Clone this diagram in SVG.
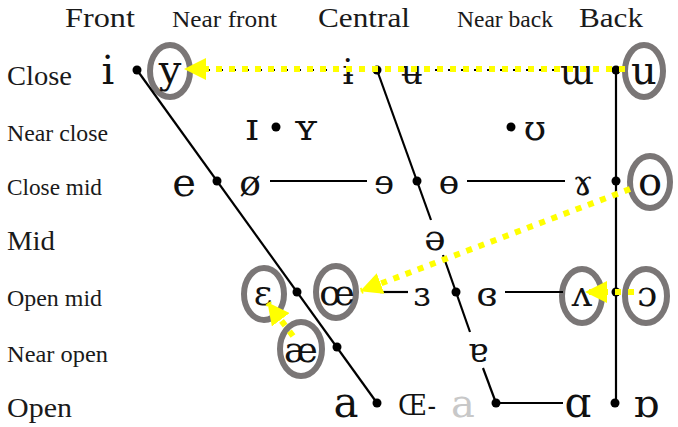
<svg xmlns="http://www.w3.org/2000/svg" width="678" height="427" viewBox="0 0 678 427">
<style>
.lbl{font-family:"Liberation Serif","Times New Roman",serif;fill:#1a1a1a}
.v{font-family:"DejaVu Serif","Liberation Serif",serif;fill:#111;text-anchor:middle}
.ring{fill:none;stroke:#7a7676;stroke-width:6}
.ln{stroke:#000;stroke-width:2.2;fill:none}
.dash{stroke-dasharray:7 6}
.yel{stroke:#ffff00;stroke-width:6;stroke-dasharray:6 7;fill:none;marker-end:url(#ah)}
.dot{fill:#000}
</style>
<defs>
<marker id="ah" markerUnits="userSpaceOnUse" markerWidth="22" markerHeight="22" viewBox="0 0 22 22" refX="21" refY="11" orient="auto">
<path d="M0,0 L22,11 L0,22 Z" fill="#ffff00"/>
</marker>
</defs>
<rect width="678" height="427" fill="#fff"/>
<g id="headers">
<text id="h-front" class="lbl" x="65" y="27" font-size="28" textLength="70" lengthAdjust="spacingAndGlyphs">Front</text>
<text id="h-nearfront" class="lbl" x="172" y="27" font-size="23" textLength="105" lengthAdjust="spacingAndGlyphs">Near front</text>
<text id="h-central" class="lbl" x="318" y="27" font-size="28" textLength="92" lengthAdjust="spacingAndGlyphs">Central</text>
<text id="h-nearback" class="lbl" x="457" y="27" font-size="23" textLength="96" lengthAdjust="spacingAndGlyphs">Near back</text>
<text id="h-back" class="lbl" x="579" y="27" font-size="28" textLength="64" lengthAdjust="spacingAndGlyphs">Back</text>
</g>
<g id="rows">
<text id="r-close" class="lbl" x="7" y="85" font-size="28" textLength="65" lengthAdjust="spacingAndGlyphs">Close</text>
<text id="r-nearclose" class="lbl" x="7" y="141" font-size="23" textLength="101" lengthAdjust="spacingAndGlyphs">Near close</text>
<text id="r-closemid" class="lbl" x="7" y="195" font-size="23" textLength="95" lengthAdjust="spacingAndGlyphs">Close mid</text>
<text id="r-mid" class="lbl" x="7" y="250" font-size="28" textLength="48" lengthAdjust="spacingAndGlyphs">Mid</text>
<text id="r-openmid" class="lbl" x="7" y="306" font-size="23" textLength="95" lengthAdjust="spacingAndGlyphs">Open mid</text>
<text id="r-nearopen" class="lbl" x="7" y="362" font-size="23" textLength="101" lengthAdjust="spacingAndGlyphs">Near open</text>
<text id="r-open" class="lbl" x="7" y="417" font-size="28" textLength="65" lengthAdjust="spacingAndGlyphs">Open</text>
</g>
<g id="v-i"><text class="v" x="108" y="84" font-size="40">i</text></g>
<g id="v-y"><ellipse class="ring" cx="170" cy="71" rx="20" ry="26"/><text class="v" x="170" y="83" font-size="40">y</text></g>
<g id="v-ibar"><text class="v" x="348" y="84" font-size="36">ɨ</text></g>
<g id="v-ubar"><text class="v" x="412" y="84" font-size="34">ʉ</text></g>
<g id="v-turnedm"><text class="v" x="577" y="84" font-size="36">ɯ</text></g>
<g id="v-u"><ellipse class="ring" cx="644" cy="71" rx="19" ry="26"/><text class="v" x="644" y="84" font-size="40">u</text></g>
<g id="v-smalli"><text class="v" x="252" y="140" font-size="40">ɪ</text></g>
<g id="v-smally"><text class="v" x="306" y="140" font-size="38">ʏ</text></g>
<g id="v-upsilon"><text class="v" x="535" y="140" font-size="36">ʊ</text></g>
<g id="v-e"><text class="v" x="184" y="196" font-size="40">e</text></g>
<g id="v-oslash"><text class="v" x="250" y="195" font-size="36">ø</text></g>
<g id="v-reve"><text class="v" x="384" y="194" font-size="34">ɘ</text></g>
<g id="v-barredo"><text class="v" x="449" y="194" font-size="34">ɵ</text></g>
<g id="v-ramshorn"><text class="v" x="583" y="195" font-size="36">ɤ</text></g>
<g id="v-o"><ellipse class="ring" cx="650" cy="182" rx="20" ry="26"/><text class="v" x="650" y="195" font-size="40">o</text></g>
<g id="v-schwa"><text class="v" x="435" y="250" font-size="36">ə</text></g>
<g id="v-epsilon"><ellipse class="ring" cx="264" cy="294" rx="20" ry="26"/><text class="v" x="263" y="305" font-size="36">ɛ</text></g>
<g id="v-oe"><ellipse class="ring" cx="336" cy="292" rx="20" ry="26"/><text class="v" x="337" y="305" font-size="36">œ</text></g>
<g id="v-revepsilon"><text class="v" x="422" y="306" font-size="34">ɜ</text></g>
<g id="v-closedrevepsilon"><text class="v" x="487" y="306" font-size="34">ɞ</text></g>
<g id="v-turnedv"><ellipse class="ring" cx="582" cy="296" rx="20" ry="27"/><text class="v" x="582" y="306" font-size="36">ʌ</text></g>
<g id="v-openo"><ellipse class="ring" cx="646" cy="296" rx="21" ry="27"/><text class="v" x="647" y="306" font-size="36">ɔ</text></g>
<g id="v-ae"><ellipse class="ring" cx="301" cy="349" rx="21" ry="27"/><text class="v" x="301" y="362" font-size="36">æ</text></g>
<g id="v-turneda"><text class="v" x="478" y="362" font-size="34">ɐ</text></g>
<g id="v-a"><text class="v" x="346" y="417" font-size="42">a</text></g>
<g id="v-OE"><text class="v" x="398" y="415" font-size="28" style="text-anchor:start" textLength="38" lengthAdjust="spacingAndGlyphs">Œ-</text><text class="v" x="463" y="417" font-size="40" style="fill:#c8c8c8">a</text></g>
<g id="v-alpha"><text class="v" x="578" y="417" font-size="42">ɑ</text></g>
<g id="v-turnedalpha"><text class="v" x="646" y="417" font-size="40">ɒ</text></g>
<g id="connectors">
<line class="ln" x1="137" y1="70" x2="377" y2="403"/>
<line class="ln" x1="377" y1="70" x2="431" y2="220"/>
<line class="ln" x1="443" y1="255" x2="470" y2="332"/>
<line class="ln" x1="483" y1="368" x2="496" y2="403"/>
<line class="ln" x1="616" y1="70" x2="616" y2="403"/>
<line class="ln dash" x1="203" y1="70" x2="333" y2="70"/>
<line class="ln dash" x1="435" y1="70" x2="557" y2="70"/>
<line class="ln" x1="270" y1="181" x2="367" y2="181"/>
<line class="ln" x1="467" y1="181" x2="565" y2="181"/>
<line class="ln" x1="380" y1="292" x2="408" y2="292"/>
<line class="ln" x1="505" y1="292" x2="563" y2="292"/>
<line class="ln" x1="496" y1="403" x2="563" y2="403"/>
<circle class="dot" cx="137" cy="70" r="4.5"/>
<circle class="dot" cx="377" cy="70" r="4.5"/>
<circle class="dot" cx="616" cy="70" r="4.5"/>
<circle class="dot" cx="276" cy="127" r="4.5"/>
<circle class="dot" cx="511" cy="127" r="4.5"/>
<circle class="dot" cx="217" cy="181" r="4.5"/>
<circle class="dot" cx="417" cy="181" r="4.5"/>
<circle class="dot" cx="616" cy="181" r="4.5"/>
<circle class="dot" cx="297" cy="292" r="4.5"/>
<circle class="dot" cx="456" cy="292" r="4.5"/>
<circle class="dot" cx="616" cy="292" r="4.5"/>
<circle class="dot" cx="337" cy="347" r="4.5"/>
<circle class="dot" cx="377" cy="403" r="4.5"/>
<circle class="dot" cx="496" cy="403" r="4.5"/>
<circle class="dot" cx="615" cy="403" r="4.5"/>
<path class="yel" d="M625,69 L185,69"/>
<path class="yel" d="M630,189 L361,291"/>
<path class="yel" d="M634,292 L586,292"/>
<path class="yel" d="M293,336 L268,303"/>
</g>
</svg>
